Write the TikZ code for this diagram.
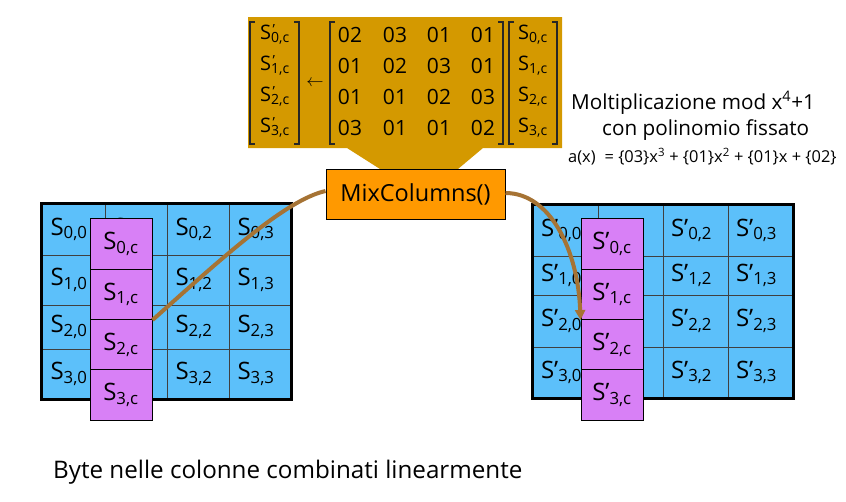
\documentclass[tikz,border=0pt]{standalone}
\usepackage{fontspec}
\setmainfont{Open Sans}
\usetikzlibrary{arrows.meta}
\definecolor{calloutgold}{RGB}{212,153,0}
\definecolor{boxorange}{RGB}{255,153,0}
\definecolor{cellblue}{RGB}{92,192,250}
\definecolor{colpurple}{RGB}{216,128,246}
\definecolor{linkbrown}{RGB}{166,115,52}
\tikzset{
  cell/.style={draw=black!75, line width=0.8pt, fill=cellblue, inner sep=0pt, align=left,
    font=\fontsize{24}{26}\selectfont},
  pcell/.style={draw=black, line width=1pt, fill=colpurple, inner sep=0pt,
    minimum width=62pt, minimum height=50.25pt, font=\fontsize{24}{26}\selectfont},
  outerframe/.style={draw=black, line width=2.5pt},
  mixbox/.style={draw=black, line width=1pt, fill=boxorange, minimum width=179pt,
    minimum height=50pt, inner sep=0pt, font=\fontsize{23.5}{26}\selectfont},
  bracket/.style={draw=black!85, line width=1.1pt},
  ment/.style={inner sep=0pt, font=\fontsize{21}{24}\selectfont},
  vent/.style={inner sep=0pt, font=\fontsize{20}{22}\selectfont},
  link/.style={draw=linkbrown, line width=4pt},
  plain/.style={inner sep=0pt, anchor=west}
}
\begin{document}
\begin{tikzpicture}[x=1pt,y=-1pt]
\useasboundingbox (0,0) rectangle (846,501);
% callout
\fill[calloutgold] (248,17) -- (562,17) -- (562,148) -- (483,148) -- (458,169)
  -- (380,169) -- (347,148) -- (248,148) -- cycle;
\foreach \xa/\xb in {250/299, 330/503, 509/557} {
  \draw[bracket] (\xa+5,22) -- (\xa,22) -- (\xa,144) -- (\xa+5,144);
  \draw[bracket] (\xb-5,22) -- (\xb,22) -- (\xb,144) -- (\xb-5,144);
}
\foreach \r/\yy/\ea/\eb/\ec/\ed in {0/35/02/03/01/01, 1/66/01/02/03/01, 2/97/01/01/02/03, 3/128/03/01/01/02} {
  \node[ment] (m\r a) at (350,\yy) {\ea};
  \node[ment] (m\r b) at (395,\yy) {\eb};
  \node[ment] (m\r c) at (439,\yy) {\ec};
  \node[ment] (m\r d) at (483,\yy) {\ed};
  \node[vent] (vo\r) at (275,\yy) {S\textsubscript{\rlap{\smash{\hspace{1.5pt}\raisebox{8.5pt}{’}}}\r,c}};
  \node[vent] (vi\r) at (533,\yy) {S\textsubscript{\r,c}};
}
\node[inner sep=0pt, font=\fontsize{18}{20}\selectfont] (arr) at (315,83) {$\leftarrow$};
% MixColumns box
\node[mixbox] (mix) at (415.5,194) {MixColumns()};
% left grid
\foreach \r/\ya/\yb in {0/204/255,1/255/305,2/305/349,3/349/399}
  \foreach \cc/\xa/\xb in {0/42/105,1/105/167,2/167/229,3/229/291} {
    \pgfmathsetmacro\w{\xb-\xa}
    \pgfmathsetmacro\h{\yb-\ya}
    \pgfmathsetmacro\tw{\xb-\xa-17}
    \node[cell, minimum width=\w pt, minimum height=\h pt, text width=\tw pt]
      (L\r\cc) at ({(\xa+\xb)/2},{(\ya+\yb)/2}) {S\textsubscript{\r,\cc}};
  }
\draw[outerframe] (L00.north west) rectangle (L33.south east);
% right grid
\foreach \r/\ya/\yb in {0/205/256,1/256/295,2/295/347,3/347/398}
  \foreach \cc/\xa/\xb in {0/533/598,1/598/663,2/663/728,3/728/793} {
    \pgfmathsetmacro\w{\xb-\xa}
    \pgfmathsetmacro\h{\yb-\ya}
    \pgfmathsetmacro\tw{\xb-\xa-16}
    \node[cell, minimum width=\w pt, minimum height=\h pt, text width=\tw pt]
      (R\r\cc) at ({(\xa+\xb)/2},{(\ya+\yb)/2}) {S’\textsubscript{\r,\cc}};
  }
\draw[outerframe] (R00.north west) rectangle (R33.south east);
% purple columns
\foreach \r/\yy in {0/244.1,1/294.4,2/344.6,3/394.9} {
  \node[pcell] (LP\r) at (121,\yy) {S\textsubscript{\r,c}};
  \node[pcell] (RP\r) at (612,\yy) {S’\textsubscript{\r,c}};
}
% connectors
\draw[link] (LP1.south east) .. controls (220,260) and (285,200) .. ([yshift=3pt]mix.west);
\draw[link, -{Triangle[length=10pt,width=10pt]}] ([yshift=1pt]mix.east)
  .. controls (550,193) and (578,250) .. (RP1.south west);
% texts
\node[plain, font=\fontsize{20.7}{24}\selectfont] (mult) at (571,103)
  {Moltiplicazione mod x\textsuperscript{4}+1};
\node[plain, font=\fontsize{20.7}{24}\selectfont] (poly) at (602,130)
  {con polinomio fissato};
\node[plain, font=\fontsize{16.4}{18}\selectfont] (ax) at (568,157)
  {a(x)\hspace{9pt}= \{03\}x\textsuperscript{3} + \{01\}x\textsuperscript{2} + \{01\}x + \{02\}};
\node[plain, font=\fontsize{24.2}{28}\selectfont] (caption) at (53,472)
  {Byte nelle colonne combinati linearmente};
\end{tikzpicture}
\end{document}
